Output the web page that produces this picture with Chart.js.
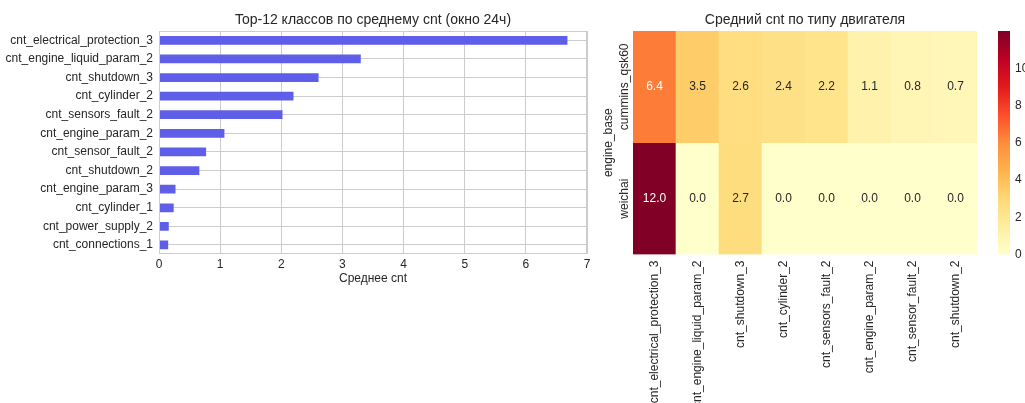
<!DOCTYPE html>
<html>
<head>
<meta charset="utf-8">
<script src="https://cdn.jsdelivr.net/npm/chart.js@4"></script>
<style>
  html, body { margin: 0; padding: 0; background: #ffffff; width: 1025px; height: 403px; overflow: hidden; }
  canvas { position: absolute; top: 0; }
  #bars { left: 0; }
  #heat { left: 595px; }
  #cbar { left: 985px; }
</style>
</head>
<body>
<canvas id="bars" width="595" height="300"></canvas>
<canvas id="heat" width="395" height="403"></canvas>
<canvas id="cbar" width="40" height="403"></canvas>
<script>
// Top-12 classes by mean cnt (24h window)
const topClasses = [
  'cnt_electrical_protection_3', 'cnt_engine_liquid_param_2', 'cnt_shutdown_3',
  'cnt_cylinder_2', 'cnt_sensors_fault_2', 'cnt_engine_param_2',
  'cnt_sensor_fault_2', 'cnt_shutdown_2', 'cnt_engine_param_3',
  'cnt_cylinder_1', 'cnt_power_supply_2', 'cnt_connections_1'
];
const topMeans = [6.68, 3.30, 2.61, 2.20, 2.02, 1.07, 0.77, 0.66, 0.27, 0.24, 0.16, 0.15];
const barTicks = [0, 1, 2, 3, 4, 5, 6, 7];

// Mean cnt per engine type
const heatClasses = [
  'cnt_electrical_protection_3', 'cnt_engine_liquid_param_2', 'cnt_shutdown_3',
  'cnt_cylinder_2', 'cnt_sensors_fault_2', 'cnt_engine_param_2',
  'cnt_sensor_fault_2', 'cnt_shutdown_2'
];
const engineTypes = ['cummins_qsk60', 'weichai'];
const cumminsMeans = [6.4, 3.5, 2.6, 2.4, 2.2, 1.1, 0.8, 0.7];
const weichaiMeans = [12.0, 0.0, 2.7, 0.0, 0.0, 0.0, 0.0, 0.0];
const colorbarTicks = [0, 2, 4, 6, 8, 10];

const TEXT = '#262626';
const GRID = '#cccccc';
const FONT = "'Liberation Sans', Arial, sans-serif";
Chart.defaults.font.family = FONT;
Chart.defaults.font.size = 12;
Chart.defaults.color = TEXT;

// YlOrRd colour ramp
const ylOrRd = ['#ffffcc', '#ffeda0', '#fed976', '#feb24c', '#fd8d3c', '#fc4e2a', '#e31a1c', '#bd0026', '#800026'];
const rampRGB = ylOrRd.map(h => [parseInt(h.slice(1, 3), 16), parseInt(h.slice(3, 5), 16), parseInt(h.slice(5, 7), 16)]);
const vmin = 0;
const vmax = Math.max(...cumminsMeans, ...weichaiMeans);

function rampColor(v) {
  let t = (v - vmin) / (vmax - vmin);
  t = Math.min(1, Math.max(0, t)) * (rampRGB.length - 1);
  const i = Math.min(rampRGB.length - 2, Math.floor(t));
  const f = t - i;
  const a = rampRGB[i], b = rampRGB[i + 1];
  return [0, 1, 2].map(k => a[k] + (b[k] - a[k]) * f);
}
function rgbStr(c) { return `rgb(${Math.round(c[0])},${Math.round(c[1])},${Math.round(c[2])})`; }
function luminance(c) {
  const lin = x => { x /= 255; return x <= 0.03928 ? x / 12.92 : Math.pow((x + 0.055) / 1.055, 2.4); };
  return 0.2126 * lin(c[0]) + 0.7152 * lin(c[1]) + 0.0722 * lin(c[2]);
}

// Light frame around the plotting area
const frame = {
  id: 'frame',
  afterDraw(chart) {
    const { ctx, chartArea: a } = chart;
    ctx.save();
    ctx.strokeStyle = GRID;
    ctx.lineWidth = 1;
    ctx.strokeRect(Math.round(a.left) + 0.5, Math.round(a.top) + 0.5,
      Math.round(a.right - a.left) - 1, Math.round(a.bottom - a.top) - 1);
    ctx.restore();
  }
};

// Title centred over the plotting area rather than the whole canvas
const areaTitle = {
  id: 'areaTitle',
  afterDraw(chart, args, opts) {
    const { ctx, chartArea: a } = chart;
    ctx.save();
    ctx.font = `14px ${FONT}`;
    ctx.fillStyle = TEXT;
    ctx.textAlign = 'center';
    ctx.textBaseline = 'middle';
    ctx.fillText(opts.text, (a.left + a.right) / 2, opts.y);
    ctx.restore();
  }
};

// ---------- Horizontal bar chart ----------
new Chart(document.getElementById('bars'), {
  type: 'bar',
  data: {
    labels: topClasses,
    datasets: [{
      data: topMeans,
      backgroundColor: 'rgb(94,94,232)',
      borderWidth: 0,
      barPercentage: 0.47,
      categoryPercentage: 1
    }]
  },
  options: {
    indexAxis: 'y',
    responsive: false,
    animation: false,
    events: [],
    layout: { padding: { left: 0, right: 8, top: 31, bottom: 0 } },
    plugins: {
      legend: { display: false },
      tooltip: { enabled: false },
      areaTitle: { text: 'Top-12 классов по среднему cnt (окно 24ч)', y: 20 }
    },
    scales: {
      x: {
        type: 'linear',
        min: 0,
        max: 7,
        afterBuildTicks: s => { s.ticks = barTicks.map(v => ({ value: v })); },
        afterFit: s => { s.height = 45.7; },
        grid: { color: GRID, drawTicks: false },
        border: { display: false },
        ticks: { padding: 3, color: TEXT, font: { size: 12 } },
        title: { display: true, text: 'Среднее cnt', color: TEXT, font: { size: 12 }, padding: { top: 0, bottom: 14 } }
      },
      y: {
        type: 'category',
        offset: true,
        afterFit: s => { s.width = 159; },
        grid: { color: GRID, drawTicks: false, offset: false },
        border: { display: false },
        ticks: { padding: 6, color: TEXT, font: { size: 12 }, autoSkip: false }
      }
    }
  },
  plugins: [frame, areaTitle]
});

// ---------- Heatmap ----------
const rowValues = [cumminsMeans, weichaiMeans];

const cellText = {
  id: 'cellText',
  afterDatasetsDraw(chart) {
    const { ctx } = chart;
    ctx.save();
    ctx.font = `12px ${FONT}`;
    ctx.textAlign = 'center';
    ctx.textBaseline = 'middle';
    chart.data.datasets.forEach((ds, di) => {
      const meta = chart.getDatasetMeta(di);
      meta.data.forEach((el, i) => {
        const v = rowValues[di][i];
        const c = rampColor(v);
        ctx.fillStyle = luminance(c) > 0.408 ? TEXT : '#ffffff';
        ctx.fillText(v.toFixed(1), el.x, (el.y + el.base) / 2);
      });
    });
    ctx.restore();
  }
};

// Row names along the left edge, rotated like the axis title
const rowLabels = {
  id: 'rowLabels',
  afterDraw(chart) {
    const { ctx, chartArea: a } = chart;
    const ys = chart.scales.y;
    ctx.save();
    ctx.font = `12px ${FONT}`;
    ctx.fillStyle = TEXT;
    ctx.textAlign = 'center';
    ctx.textBaseline = 'middle';
    engineTypes.forEach((name, r) => {
      const y = ys.getPixelForValue(r + 0.5);
      ctx.save();
      ctx.translate(a.left - 8, y);
      ctx.rotate(-Math.PI / 2);
      ctx.fillText(name, 0, 0);
      ctx.restore();
    });
    ctx.restore();
  }
};

new Chart(document.getElementById('heat'), {
  type: 'bar',
  data: {
    labels: heatClasses,
    datasets: engineTypes.map((name, r) => ({
      label: name,
      data: rowValues[r].map(() => [r, r + 1]),
      backgroundColor: rowValues[r].map(v => rgbStr(rampColor(v))),
      borderWidth: 0,
      borderSkipped: false,
      grouped: false,
      barPercentage: 1,
      categoryPercentage: 1
    }))
  },
  options: {
    responsive: false,
    animation: false,
    events: [],
    layout: { padding: { left: 0, right: 13, top: 31, bottom: 0 } },
    plugins: {
      legend: { display: false },
      tooltip: { enabled: false },
      areaTitle: { text: 'Средний cnt по типу двигателя', y: 20 }
    },
    scales: {
      x: {
        type: 'category',
        offset: true,
        afterFit: s => { s.height = 148.5; },
        grid: { display: false, drawTicks: false },
        border: { display: false },
        ticks: { minRotation: 90, maxRotation: 90, padding: 6, color: TEXT, font: { size: 12 }, autoSkip: false }
      },
      y: {
        type: 'linear',
        min: 0,
        max: engineTypes.length,
        reverse: true,
        afterFit: s => { s.width = 38; },
        grid: { display: false, drawTicks: false },
        border: { display: false },
        ticks: { display: false },
        title: { display: true, text: 'engine_base', color: TEXT, font: { size: 12 }, padding: { top: 6, bottom: 0 } }
      }
    }
  },
  plugins: [cellText, rowLabels, areaTitle]
});

// ---------- Colour bar ----------
new Chart(document.getElementById('cbar'), {
  type: 'bar',
  data: {
    labels: ['cnt'],
    datasets: [{
      data: [[vmin, vmax]],
      backgroundColor: ctx => {
        const a = ctx.chart.chartArea;
        if (!a) return ylOrRd[0];
        const g = ctx.chart.ctx.createLinearGradient(0, a.bottom, 0, a.top);
        ylOrRd.forEach((c, i) => g.addColorStop(i / (ylOrRd.length - 1), c));
        return g;
      },
      borderWidth: 0,
      borderSkipped: false,
      barPercentage: 1,
      categoryPercentage: 1
    }]
  },
  options: {
    responsive: false,
    animation: false,
    events: [],
    layout: { padding: { left: 13, right: 0, top: 31, bottom: 148.5 } },
    plugins: { legend: { display: false }, tooltip: { enabled: false } },
    scales: {
      x: { display: false, offset: true },
      y: {
        type: 'linear',
        position: 'right',
        min: vmin,
        max: vmax,
        afterBuildTicks: s => { s.ticks = colorbarTicks.map(v => ({ value: v })); },
        afterFit: s => { s.width = 15; },
        grid: { display: false, drawTicks: false },
        border: { display: false },
        ticks: { padding: 5, color: TEXT, font: { size: 12 } }
      }
    }
  }
});
</script>
</body>
</html>
